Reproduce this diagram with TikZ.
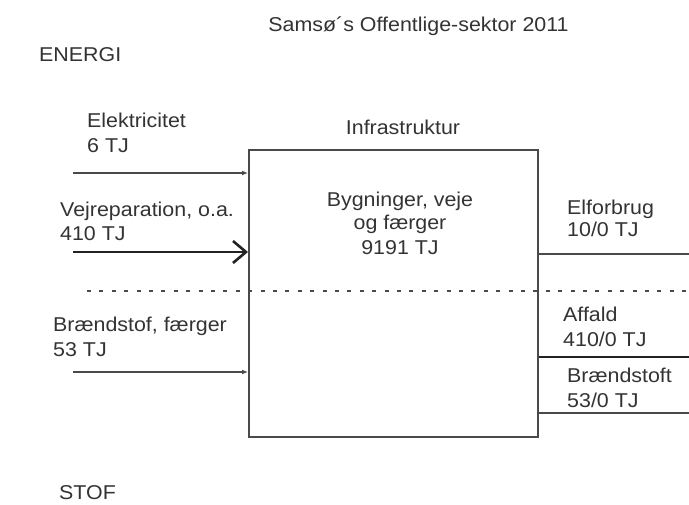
\documentclass[tikz,border=0pt]{standalone}
\usepackage{fontspec}
\setmainfont{Liberation Sans}[FakeStretch=1.07]
\usetikzlibrary{arrows.meta}
\definecolor{txt}{HTML}{333333}
\definecolor{ln}{HTML}{4A4A4A}
\definecolor{dk}{HTML}{222222}
\tikzset{
  lbl/.style={anchor=base west, inner sep=0pt, text=txt, font=\fontsize{20pt}{24pt}\selectfont},
  ctr/.style={anchor=base, inner sep=0pt, text=txt, font=\fontsize{20pt}{24pt}\selectfont},
  thinarrow/.style={draw=ln, line width=1.3pt, -{Latex[length=6pt,width=5pt]}},
  thickarrow/.style={draw=dk, line width=2.6pt, -{Straight Barb[length=13pt,width=22pt,line width=2.6pt]}},
  thinout/.style={draw=ln, line width=1.4pt},
  thickout/.style={draw=dk, line width=2.6pt},
  divider/.style={draw=ln, line width=1.6pt, dash pattern=on 4pt off 8.4pt},
  mainbox/.style={draw=ln, line width=2pt, minimum width=289pt, minimum height=287pt, inner sep=0pt}
}
\begin{document}
\begin{tikzpicture}[x=1pt,y=-1pt]
\useasboundingbox (0,0) rectangle (689,505);
% title and section labels
\node[ctr] (title) at (418.5,32) {Samsø´s Offentlige-sektor 2011};
\node[lbl] (energi) at (39,62) {ENERGI};
\node[lbl] (stof) at (59,499) {STOF};
% dashed divider
\coordinate (d0) at (87,291);
\coordinate (d1) at (689,291);
\draw[divider] (d0) -- (d1);
% main box
\node[mainbox] (box) at (393.5,293.5) {};
\node[ctr] (infra) at (403,135) {Infrastruktur};
\node[ctr] (b1) at (400,207) {Bygninger, veje};
\node[ctr] (b2) at (400,230) {og færger};
\node[ctr] (b3) at (400,255) {9191 TJ};
% inputs
\node[lbl] (el1) at (87,128) {Elektricitet};
\node[lbl] (el2) at (87,153) {6 TJ};
\coordinate (e0) at (73,173);
\draw[thinarrow] (e0) -- (e0 -| box.west);
\node[lbl] (vr1) at (60,217) {Vejreparation, o.a.};
\node[lbl] (vr2) at (60,241) {410 TJ};
\coordinate (v0) at (73,252);
\draw[thickarrow] (v0) -- (v0 -| box.west);
\node[lbl] (bf1) at (53,332) {Brændstof, færger};
\node[lbl] (bf2) at (53,357) {53 TJ};
\coordinate (f0) at (73,372);
\draw[thinarrow] (f0) -- (f0 -| box.west);
% outputs
\node[lbl] (ef1) at (567,215) {Elforbrug};
\node[lbl] (ef2) at (567,237) {10/0 TJ};
\coordinate (o1) at (689,254);
\draw[thinout] (o1 -| box.east) -- (o1);
\node[lbl] (af1) at (563,322) {Affald};
\node[lbl] (af2) at (563,347) {410/0 TJ};
\coordinate (o2) at (689,357);
\draw[thickout] (o2 -| box.east) -- (o2);
\node[lbl] (bs1) at (567,383) {Brændstoft};
\node[lbl] (bs2) at (567,407) {53/0 TJ};
\coordinate (o3) at (689,413);
\draw[thinout] (o3 -| box.east) -- (o3);
\end{tikzpicture}
\end{document}
